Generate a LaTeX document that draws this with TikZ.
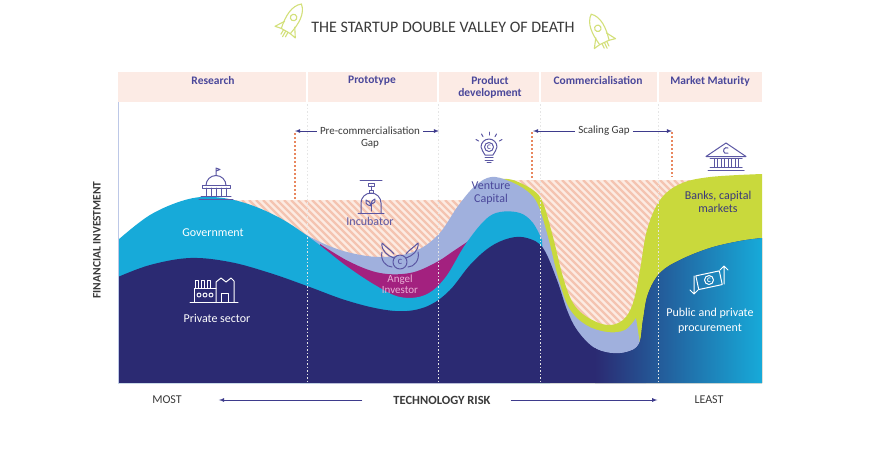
\documentclass[tikz,border=0pt]{standalone}
\usepackage{fontspec}
\setmainfont{Carlito}
\usepackage{tikz}
\usetikzlibrary{arrows}
\usetikzlibrary{calc}
\usetikzlibrary{positioning}

\definecolor{navyc}{HTML}{2B2A72}
\definecolor{cyanc}{HTML}{17AAD9}
\definecolor{periw}{HTML}{A0B0DD}
\definecolor{magen}{HTML}{A3217F}
\definecolor{limec}{HTML}{C9D93C}
\definecolor{hatchbg}{HTML}{FCEBE2}
\definecolor{hatchln}{HTML}{F4C4B1}
\definecolor{bandc}{HTML}{FCEBE5}
\definecolor{headc}{HTML}{4A479A}
\definecolor{iconc}{HTML}{5B57A3}
\definecolor{gapc}{HTML}{E8875F}
\definecolor{arrowc}{HTML}{3E3B8C}
\definecolor{titlec}{HTML}{3A3A3A}
\definecolor{rocketc}{HTML}{D3E07A}
\definecolor{angelc}{HTML}{E9AFD6}

\begin{document}
\begin{tikzpicture}[
    x=1pt, y=-1pt,
    stage/.style={font=\bfseries\fontsize{11.5}{12.5}\selectfont, color=headc, align=center, anchor=north, inner sep=0pt},
    area label/.style={font=\fontsize{12}{13}\selectfont, align=center, inner sep=0pt},
    gap label/.style={font=\fontsize{11}{12}\selectfont, color=titlec, inner sep=0pt},
    gap arrow/.style={->, >=latex, thick, color=arrowc},
    gap line/.style={dash pattern=on 2pt off 2pt, line width=1.2pt, color=gapc},
    risk label/.style={font=\fontsize{12}{13}\selectfont, color=titlec, inner sep=0pt},
    stage line/.style={dash pattern=on 1.5pt off 2pt, line width=0.9pt, color=white!80!gray},
    icon/.style={line width=1pt, color=iconc, line join=round, line cap=round},
    white icon/.style={icon, color=white},
    rocket/.style={line width=1.1pt, color=rocketc, line join=round, line cap=round}
    ]

    \useasboundingbox (0,0) rectangle (870,448);
    \fill[white] (0,0) rectangle (870,448);

    % title and rockets
    \node[font=\fontsize{16}{18}\selectfont, color=titlec] (title) at (443,27) {THE STARTUP DOUBLE VALLEY OF DEATH};
    \begin{scope}[shift={(291,22)}, y=1pt, rotate=-30, scale=1.3, rocket]
        \draw (0,16) .. controls (6,11) and (6,2) .. (4,-8) -- (-4,-8) .. controls (-6,2) and (-6,11) .. (0,16) -- cycle;
        \draw (0,4) circle (2.5);
        \draw (-4.5,-2) -- (-9,-9) -- (-4,-8);
        \draw (4.5,-2) -- (9,-9) -- (4,-8);
        \draw (-2,-8) -- (-2,-12) (0,-8) -- (0,-13) (2,-8) -- (2,-12);
    \end{scope}
    \begin{scope}[shift={(600,33)}, y=1pt, rotate=25, scale=1.3, rocket]
        \draw (0,16) .. controls (6,11) and (6,2) .. (4,-8) -- (-4,-8) .. controls (-6,2) and (-6,11) .. (0,16) -- cycle;
        \draw (0,4) circle (2.5);
        \draw (-4.5,-2) -- (-9,-9) -- (-4,-8);
        \draw (4.5,-2) -- (9,-9) -- (4,-8);
        \draw (-2,-8) -- (-2,-12) (0,-8) -- (0,-13) (2,-8) -- (2,-12);
    \end{scope}

    % stage band
    \fill[bandc] (118,72) rectangle (762,102);
    \node[stage] (research) at (213,76) {Research};
    \node[stage] (prototype) at (372,76) {Prototype};
    \node[stage] (product) at (490,76) {Product\\development};
    \node[stage] (commerce) at (598,76) {Commercialisation};
    \node[stage] (maturity) at (710,76) {Market Maturity};

    % hatched gaps
    \begin{scope}
        \clip (200,200) rectangle (470,330);
        \fill[hatchbg] (200,200) rectangle (470,330);
        \foreach \s in {60,67,...,480}
            \draw[hatchln, line width=2.2pt] (\s,200) -- ++(140,140);
    \end{scope}
    \begin{scope}
        \clip (505,180) rectangle (720,345);
        \fill[hatchbg] (505,180) rectangle (720,345);
        \foreach \s in {345,352,...,730}
            \draw[hatchln, line width=2.2pt] (\s,180) -- ++(170,170);
    \end{scope}

    % lime: banks, capital markets
    \fill[limec] (500,383) -- plot[smooth, tension=0.6] coordinates {(500,179) (513,180) (533,190) (543,203) (553,237) (563,277) (573,303) (587,317) (607,325) (623,320) (633,303) (640,270) (647,230) (660,200) (680,184) (710,177) (762,174)} -- (762,383) -- cycle;
    % periwinkle: venture capital
    \fill[periw] (300,383) -- plot[smooth, tension=0.6] coordinates {(300,231) (320,242) (347,252) (380,257) (413,252) (438,235) (458,206) (475,186) (491,177) (509,181) (527,191) (538,205) (548,237) (558,277) (569,308) (586,325) (607,332) (625,330) (636,318)} -- (646,383) -- cycle;
    % magenta: angel investor
    \fill[magen] (320,383) -- plot[smooth, tension=0.6] coordinates {(320,244) (350,262) (380,273) (410,273) (435,263) (455,250) (470,240)} -- (470,383) -- cycle;
    % cyan: government
    \fill[cyanc] (118,383) -- plot[smooth, tension=0.6] coordinates {(118,240) (150,215) (185,200) (213,197) (245,203) (280,218) (313,240) (345,265) (375,285) (400,297) (425,295) (445,278) (465,245) (485,220) (500,212) (520,213) (533,223) (542,240)} -- (550,383) -- cycle;
    % navy: private sector, fading to cyan on the right
    \path[save path=\navypath] (118,383) -- plot[smooth, tension=0.6] coordinates {(118,277) (150,265) (190,258) (230,262) (270,273) (307,286) (345,300) (380,309) (407,311) (430,305) (450,290) (470,265) (490,247) (510,238) (527,238) (543,248) (557,280) (567,310) (577,330) (593,347) (610,353) (627,352) (639,344) (643,320) (648,294) (660,273) (680,260) (710,248) (740,241) (762,238)} -- (762,383) -- cycle;
    \fill[navyc, use path=\navypath];
    \begin{scope}
        \clip[use path=\navypath];
        \shade[left color=navyc, right color=cyanc] (595,100) rectangle (762,383);
    \end{scope}

    % gap markers
    \draw[gap line] (295,133) -- (295,200);
    \draw[gap line] (532,132) -- (532,180);
    \draw[gap line] (672,132) -- (672,177);

    % stage lines and axis
    \foreach \sx in {307,438,540,658} {
        \draw[white, line width=1.2pt] (\sx,72) -- (\sx,102);
        \draw[stage line] (\sx,104) -- (\sx,383);
    }
    \draw[color=periw!70!white, line width=1pt] (118,102) -- (118,383);
    \node[font=\bfseries\fontsize{11.5}{13}\selectfont, color=titlec, rotate=90] (invest) at (97,240) {FINANCIAL INVESTMENT};

    % gap labels
    \node[gap label] (precom) at (370,131) {Pre-commercialisation};
    \node[gap label] (precomgap) at (370,144) {Gap};
    \coordinate (precomL) at (295,131);
    \coordinate (precomR) at (439,131);
    \draw[gap arrow] ([xshift=-3pt]precom.west) -- (precomL);
    \draw[gap arrow] ([xshift=3pt]precom.east) -- (precomR);
    \node[gap label] (scaling) at (604,131) {Scaling Gap};
    \coordinate (scalingL) at (533,131);
    \coordinate (scalingR) at (672,131);
    \draw[gap arrow] ([xshift=-3pt]scaling.west) -- (scalingL);
    \draw[gap arrow] ([xshift=3pt]scaling.east) -- (scalingR);

    % area labels
    \node[area label, color=white] (gov) at (213,233) {Government};
    \node[area label, color=white] (private) at (217,318) {Private sector};
    \node[area label, color=iconc] (incub) at (370,221) {Incubator};
    \node[area label, color=angelc, font=\fontsize{11}{11.5}\selectfont] (angel) at (400,284) {Angel\\Investor};
    \node[area label, color=headc] (venture) at (491,193) {Venture\\Capital};
    \node[area label, color=headc!80!black] (banks) at (718,202) {Banks, capital\\markets};
    \node[area label, color=white, font=\fontsize{12}{14.5}\selectfont] (procure) at (710,321) {Public and private\\procurement};

    % government icon
    \begin{scope}[shift={(216,199)}, y=1pt, icon]
        \draw (-17,0) -- (17,0);
        \draw (-15,2.5) -- (15,2.5);
        \foreach \c in {-10,-5,0,5,10} \draw (\c,2.5) -- (\c,11);
        \draw (-14,11) -- (14,11) -- (14,13.5) -- (-14,13.5) -- cycle;
        \draw (-10,13.5) arc[start angle=180, end angle=0, radius=10];
        \draw (0,23.5) -- (0,31) -- (4,29.5) -- (0,28);
    \end{scope}
    % factory icon
    \begin{scope}[shift={(214,302)}, y=1pt, white icon]
        \draw (-24,0) -- (24,0);
        \draw (-20,0) -- (-20,14) -- (2,14);
        \foreach \c in {-17,-11,-5} \draw ({\c-1.5},14) rectangle ({\c+1.5},22);
        \foreach \c in {-15,-9,-3} \draw (\c,7) circle (2);
        \draw (2,0) -- (2,20) -- (7,24) -- (12,20) -- (17,24) -- (20,21) -- (20,0);
        \draw (7,0) -- (7,9) -- (14,9) -- (14,0);
    \end{scope}
    % incubator icon
    \begin{scope}[shift={(371,213)}, y=1pt, icon]
        \draw (-13,0) -- (13,0);
        \draw (-10,0) -- (-10,10) arc[start angle=180, end angle=0, radius=10] -- (10,0);
        \draw (-2,20) rectangle (2,23);
        \draw (0,23) -- (0,27);
        \draw (-3,27) rectangle (3,30);
        \draw (-11,33) -- (11,33);
        \draw (0,2) -- (0,11);
        \draw (0,7) .. controls (-5,8) and (-6,11) .. (-5,13) .. controls (-2,12) and (0,10) .. (0,7);
        \draw (0,9) .. controls (4,10) and (5,12) .. (4,14) .. controls (2,13) and (0,12) .. (0,9);
    \end{scope}
    % angel investor icon
    \begin{scope}[shift={(400,262)}, y=1pt, icon]
        \draw (0,0) circle (7);
        \node[font=\fontsize{8}{8}\selectfont\bfseries, color=iconc, inner sep=0pt] (angelcoin) at (0,0) {C};
        \draw (-6,4) .. controls (-12,6) and (-19,11) .. (-18,19) .. controls (-13,14) and (-9,12) .. (-6,8);
        \draw (6,4) .. controls (12,6) and (19,11) .. (18,19) .. controls (13,14) and (9,12) .. (6,8);
        \draw (-18,10) .. controls (-20,2) and (-14,-5) .. (-8,-5);
        \draw (18,10) .. controls (20,2) and (14,-5) .. (8,-5);
    \end{scope}
    % venture capital icon
    \begin{scope}[shift={(489,150)}, y=1pt, icon]
        \draw (-4,-5) .. controls (-5,-2) and (-8,0) .. (-8,3) arc[start angle=180, end angle=0, radius=8] .. controls (8,0) and (5,-2) .. (4,-5) -- cycle;
        \draw (-4,-7.5) -- (4,-7.5);
        \draw (-4,-10) -- (4,-10);
        \draw (-2,-12.5) -- (2,-12.5);
        \draw (0,3) circle (4.5);
        \node[font=\fontsize{7}{7}\selectfont\bfseries, color=iconc, inner sep=0pt] (bulbc) at (0,3) {C};
        \foreach \a in {30,60,90,120,150} \draw[shift={(0,3)}] (\a:12) -- (\a:15);
    \end{scope}
    % bank icon
    \begin{scope}[shift={(726,170)}, y=1pt, icon]
        \draw (-18,0) -- (18,0);
        \draw (-16,2.5) -- (16,2.5);
        \foreach \c in {-10.5,-3.5,3.5,10.5} \draw ({\c-1.5},2.5) rectangle ({\c+1.5},12);
        \draw (-16,12) -- (16,12);
        \draw (-20,13.5) -- (0,27) -- (20,13.5) -- cycle;
        \draw (2,22) arc[start angle=60, end angle=300, radius=3];
    \end{scope}
    % procurement icon
    \begin{scope}[shift={(710,280)}, y=1pt, white icon]
        \draw[rotate=12] (-13,-7) rectangle (11,7);
        \draw (-1,0) circle (4.5);
        \node[font=\fontsize{7}{7}\selectfont\bfseries, color=white, inner sep=0pt] (moneyc) at (-1,0) {C};
        \draw (14,-4) -- (14,14) (10,10) -- (14,14) -- (18,10);
        \draw (-16,4) -- (-16,-14) (-20,-10) -- (-16,-14) -- (-12,-10);
    \end{scope}

    % technology risk
    \node[risk label, font=\bfseries\fontsize{12.5}{13}\selectfont] (risk) at (442,400) {TECHNOLOGY RISK};
    \node[risk label] (most) at (167,400) {MOST};
    \node[risk label] (least) at (709,400) {LEAST};
    \draw[gap arrow] ([xshift=-31pt]risk.west) -- ([xshift=37pt]most.east);
    \draw[gap arrow] ([xshift=20pt]risk.east) -- ([xshift=-37pt]least.west);
\end{tikzpicture}
\end{document}
